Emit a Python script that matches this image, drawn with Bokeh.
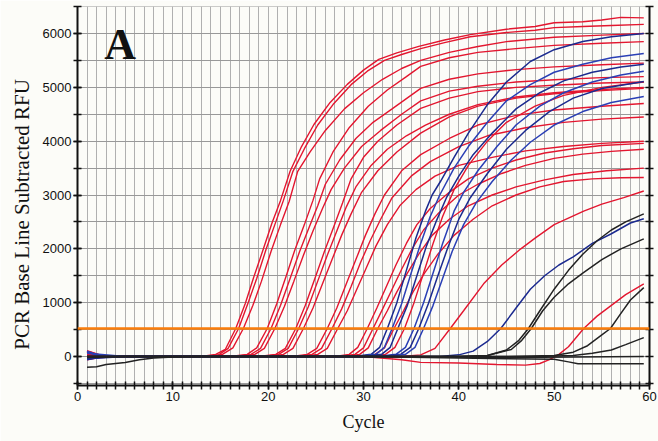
from bokeh.plotting import figure
from bokeh.models import FixedTicker, LinearAxis, Span, Label, CustomJSTickFormatter
from bokeh.embed import file_html
from bokeh.resources import INLINE

# ---------------- data (cycle, RFU) ----------------
R01 = [(1,80),(2.5,10),(5,0),(13,0),(14.5,40),(15.5,130),(16.6,520),(17.6,985),(18.5,1480),(19.5,2000),(20.4,2480),(21.3,2900),(22.3,3440),(23.5,3900),(24.8,4310),(26.5,4720),(28.3,5055),(30,5320),(31.6,5520),(33.5,5640),(35.8,5760),(38.5,5880),(41.2,5980),(45,6080),(48,6130),(50,6200),(53,6220),(55,6250),(57,6300),(59.4,6290)]
R02 = [(1,-40),(2.5,-10),(5,0),(13,0),(14.8,30),(15.8,150),(16.9,520),(17.9,1000),(18.8,1450),(19.8,2000),(20.7,2450),(21.6,2900),(22.6,3440),(23.8,3860),(25.2,4300),(26.8,4680),(28.7,5050),(30.4,5300),(32.2,5500),(34,5610),(36,5720),(38.5,5830),(41.2,5940),(45,6020),(48,6060),(50,6110),(53,6130),(56,6150),(59.4,6170)]
R03 = [(1,100),(2.5,20),(5,0),(13.5,0),(15.2,40),(16.3,160),(17.4,520),(18.4,950),(19.3,1400),(20.3,1950),(21.3,2450),(22.2,2880),(23.1,3440),(24.4,3800),(26,4200),(28,4600),(30,4900),(32,5150),(34,5350),(36,5500),(39,5650),(42,5760),(45,5850),(50,5930),(55,5970),(59.4,6000)]
R04 = [(1,60),(2.5,0),(5,0),(16,0),(17.8,40),(18.8,160),(19.9,520),(20.9,980),(21.9,1500),(22.8,1980),(23.8,2450),(24.7,2900),(25.4,3300),(26.8,3800),(28.5,4250),(30.5,4650),(32.5,4950),(34.5,5200),(36,5390),(39,5550),(42,5650),(46,5720),(50,5780),(55,5820),(59.4,5850)]
R05 = [(1,-50),(2.5,-10),(5,0),(16.5,0),(18.2,40),(19.2,150),(20.3,520),(21.3,950),(22.3,1450),(23.3,1950),(24.3,2400),(25.2,2800),(26,3200),(27.5,3650),(29.2,4050),(31,4350),(33,4600),(36,4980),(39,5150),(42,5250),(46,5330),(50,5380),(55,5420),(59.4,5450)]
R06 = [(1,30),(2.5,0),(5,0),(17,0),(18.6,40),(19.6,150),(20.7,520),(21.7,930),(22.7,1400),(23.7,1880),(24.7,2330),(25.7,2750),(26.6,3100),(28,3500),(29.8,3900),(31.8,4200),(34,4500),(36,4750),(39,4930),(42,5020),(46,5100),(50,5140),(55,5180),(59.4,5200)]
R07 = [(1,90),(2.5,10),(5,0),(19,0),(20.8,40),(21.8,150),(22.9,520),(23.9,950),(24.9,1450),(25.9,1950),(26.9,2420),(27.8,2850),(28.7,3300),(30,3700),(31.5,4000),(33.5,4300),(36,4610),(39,4800),(42,4920),(46,5000),(50,5040),(55,5080),(59.4,5100)]
R08 = [(1,-30),(2.5,0),(5,0),(19.5,0),(21.1,40),(22.1,150),(23.2,520),(24.2,920),(25.2,1400),(26.2,1880),(27.2,2330),(28.2,2780),(29.2,3150),(30.8,3550),(32.5,3850),(34.5,4100),(36.5,4300),(39,4500),(42,4680),(46,4820),(50,4900),(55,4960),(59.4,5000)]
R09 = [(1,50),(2.5,0),(5,0),(20,0),(21.6,40),(22.6,150),(23.7,520),(24.7,900),(25.7,1350),(26.7,1800),(27.7,2250),(28.7,2650),(29.8,3050),(31.5,3450),(33.5,3800),(36,4150),(39,4450),(42,4650),(46,4800),(50,4880),(55,4940),(59.4,4980)]
R10 = [(1,20),(2.5,0),(5,0),(22.5,0),(24.1,40),(25.1,150),(26.2,520),(27.2,900),(28.2,1350),(29.2,1800),(30.2,2250),(31.2,2650),(32.2,3000),(34,3450),(36,3750),(39,4050),(42,4300),(46,4480),(50,4580),(55,4650),(59.4,4700)]
R11 = [(1,-60),(2.5,-10),(5,0),(23,0),(24.6,40),(25.6,150),(26.7,520),(27.7,880),(28.7,1300),(29.7,1750),(30.7,2150),(31.8,2550),(33,2950),(35,3350),(37,3620),(40,3900),(43,4100),(47,4250),(51,4350),(55,4410),(59.4,4450)]
R12 = [(1,40),(2.5,0),(5,0),(23.5,0),(25.2,40),(26.2,150),(27.3,520),(28.3,850),(29.3,1250),(30.3,1650),(31.3,2050),(32.5,2450),(33.8,2800),(35.5,3100),(37.5,3350),(40,3550),(43.5,3700),(47,3820),(51,3900),(55,3960),(59.4,4000)]
R13 = [(1,80),(2.5,10),(5,0),(27,0),(28.5,40),(29.4,170),(30.4,520),(31.4,900),(32.4,1300),(33.4,1700),(34.5,2100),(35.6,2450),(37,2750),(39,3050),(41,3300),(43.5,3500),(46,3650),(49,3780),(52,3860),(55,3920),(59.4,3960)]
R14 = [(1,-20),(2.5,0),(5,0),(27.5,0),(29.1,40),(30,160),(31,520),(32,880),(33,1250),(34,1620),(35.1,2000),(36.3,2350),(37.8,2650),(40,3000),(42,3200),(44.5,3400),(47,3550),(50,3680),(53,3760),(56,3810),(59.4,3850)]
R15 = [(1,110),(2.5,20),(5,0),(28,0),(29.6,40),(30.5,160),(31.5,520),(32.5,850),(33.5,1200),(34.6,1550),(35.8,1900),(37.2,2250),(39,2550),(41,2800),(43.5,3000),(46,3150),(49,3280),(52,3380),(55.5,3450),(59.4,3500)]
R16 = [(1,-50),(2.5,-10),(5,0),(29.5,0),(31.2,40),(32.2,160),(33.2,520),(34.2,850),(35.2,1200),(36.4,1550),(37.8,1900),(39.5,2250),(41.5,2550),(43.5,2800),(46,3000),(48.5,3150),(51,3250),(54,3300),(57,3320),(59.4,3325)]
R17 = [(1,0),(5,0),(30.5,0),(32.3,40),(33.3,170),(34.3,520),(35.3,1000),(36.3,1550),(37.3,2100),(38.3,2600),(39.5,3100),(41,3550),(43,4000),(45,4350),(48,4650),(51,4850),(55,5000),(59.4,5100)]
R18 = [(1,30),(5,0),(34,0),(36,30),(37.5,150),(39.1,520),(40.5,850),(42.6,1350),(44.5,1700),(46.5,2000),(48,2200),(50,2450),(53.1,2700),(55,2830),(57.3,2950),(59.4,3075)]
R19 = [(1,-30),(5,0),(30,0),(34,-60),(36,-110),(40,-120),(44,-150),(47,-160),(48.5,-130),(49.5,-60),(50.5,40),(51.5,180),(53.1,520),(54.5,750),(56,950),(57.5,1150),(59.4,1350)]

B01 = [(1,-60),(2.5,-10),(5,0),(29,0),(30.8,40),(31.7,170),(32.5,520),(33.5,1000),(34.5,1600),(35.5,2200),(36.5,2700),(37.2,3000),(38.1,3260),(39.5,3700),(41,4150),(43,4680),(45,5100),(47.5,5480),(50,5700),(53,5850),(56,5940),(59.4,6000)]
B02 = [(1,100),(2.5,10),(5,0),(29.5,0),(31.3,40),(32.2,170),(33,520),(34,980),(35,1550),(36,2100),(37,2600),(38,3000),(39.5,3500),(41,3900),(43,4350),(45,4750),(47.5,5050),(50,5280),(53,5430),(56,5550),(59.4,5630)]
B03 = [(1,-30),(5,0),(30,0),(31.9,40),(32.8,170),(33.6,520),(34.6,950),(35.6,1500),(36.6,2050),(37.6,2500),(38.7,2950),(40,3350),(41.5,3750),(43.5,4150),(46,4600),(48.5,4900),(51,5120),(54,5280),(57,5380),(59.4,5430)]
B04 = [(1,80),(2.5,0),(5,0),(31.5,0),(33.4,40),(34.4,170),(35.3,520),(36.3,1000),(37.3,1550),(38.3,2100),(39.5,2700),(40.5,3050),(42,3450),(44,3900),(46,4300),(48.5,4650),(51,4900),(54,5100),(57,5230),(59.4,5300)]
B05 = [(1,-40),(5,0),(32,0),(33.9,40),(34.9,170),(35.8,520),(36.8,980),(37.8,1500),(38.8,2000),(40,2550),(41.2,2950),(43,3400),(45,3850),(47,4200),(49.5,4550),(52,4800),(55,4980),(59.4,5110)]
B06 = [(1,60),(5,0),(32.5,0),(34.4,40),(35.4,170),(36.3,520),(37.3,950),(38.3,1450),(39.3,1950),(40.5,2450),(41.8,2850),(43.5,3250),(45.5,3650),(47.5,3980),(50,4300),(53,4550),(56,4720),(59.4,4830)]
B07 = [(1,0),(5,0),(38,0),(40,30),(41.5,100),(43,280),(44.4,520),(46,900),(47.5,1250),(49,1500),(50.5,1700),(52,1850),(54,2100),(56,2280),(58,2480),(59.4,2560)]

K01 = [(1,0),(5,0),(40,0),(43,20),(45,120),(46.3,300),(47.3,520),(48.5,850),(50,1250),(51.5,1600),(53,1900),(54.5,2150),(56,2350),(57.5,2500),(59.4,2650)]
K02 = [(1,0),(5,0),(40,0),(43,20),(45.5,130),(46.6,300),(47.6,520),(48.8,850),(50,1100),(51.5,1350),(53,1550),(55,1800),(57,2000),(59.4,2185)]
K03 = [(1,0),(5,0),(45,0),(50,20),(52,80),(53.5,200),(55,400),(55.9,520),(57,800),(58,1050),(59.4,1280)]
K04 = [(1,-20),(5,0),(48,0),(52,20),(54,60),(56,120),(57.5,220),(59.4,350)]
K05 = [(1,0),(5,0),(30,0),(45,-20),(59.4,0)]
K06 = [(1,-200),(2,-190),(3,-150),(5,-110),(6.5,-60),(8,-30),(10,-10),(13,0),(30,0),(40,-30),(45,-40),(50,-50),(51.5,-100),(52.5,-135),(59.4,-135)]

RED = [R01, R02, R03, R04, R05, R06, R07, R08, R09, R10, R11, R12, R13, R14, R15, R16, R17, R18, R19]
BLUE = [B01, B02, B03, B04, B05, B06, B07]
BLACK = [K01, K02, K03, K04, K05, K06]

THRESHOLD = 520
X_TICKS = [0, 10, 20, 30, 40, 50, 60]
Y_TICKS = [0, 1000, 2000, 3000, 4000, 5000, 6000]
Y_MINOR = list(range(-500, 6501, 500))
X_MINOR = list(range(0, 61))

# ---------------- figure ----------------
BG = "#fcfcf8"
p = figure(width=658, height=441, x_range=(0, 60), y_range=(-539, 6502),
           output_backend="svg", toolbar_location=None,
           min_border_left=77, min_border_right=9, min_border_top=6, min_border_bottom=56)
p.background_fill_color = BG
p.border_fill_color = BG
p.outline_line_color = None

p.xaxis.ticker = FixedTicker(ticks=X_TICKS, minor_ticks=X_MINOR)
p.yaxis.ticker = FixedTicker(ticks=Y_TICKS, minor_ticks=Y_MINOR)
p.xgrid.ticker = FixedTicker(ticks=X_MINOR)
p.ygrid.ticker = FixedTicker(ticks=Y_MINOR)
p.xgrid.grid_line_color = "#b0b0b0"
p.ygrid.grid_line_color = "#999999"
p.xgrid.grid_line_width = 1
p.ygrid.grid_line_width = 1

for ax in (p.xaxis[0], p.yaxis[0]):
    ax.axis_line_color = "#111111"
    ax.axis_line_width = 2
    ax.major_tick_line_color = "#111111"
    ax.minor_tick_line_color = "#111111"
    ax.major_tick_line_width = 1.5
    ax.minor_tick_line_width = 1.5
    ax.major_tick_in = 4
    ax.major_tick_out = 4
    ax.minor_tick_in = 4
    ax.minor_tick_out = 4
    ax.major_label_text_font = "Liberation Sans"
    ax.major_label_text_font_size = "13px"
    ax.major_label_text_color = "#111111"
    ax.major_label_standoff = 2
    ax.axis_label_text_font = "Liberation Serif"
    ax.axis_label_text_font_style = "normal"
    ax.axis_label_text_color = "#111111"

p.xaxis[0].axis_label = "Cycle"
p.xaxis[0].axis_label_text_font_size = "18px"
p.xaxis[0].axis_label_standoff = 8

# trailing no-break spaces shift the centred label down to where the reference shows it
p.yaxis[0].axis_label = "PCR Base Line Subtracted RFU" + "\u00a0" * 7
p.yaxis[0].axis_label_text_font_size = "21px"
p.yaxis[0].axis_label_standoff = 6

right = LinearAxis(ticker=FixedTicker(ticks=Y_MINOR),
                   formatter=CustomJSTickFormatter(code="return ''"))
right.axis_line_color = "#111111"
right.axis_line_width = 2
right.major_tick_line_color = "#111111"
right.major_tick_line_width = 1.5
right.major_tick_in = 4
right.major_tick_out = 4
right.minor_tick_line_color = None
right.major_label_standoff = 0
p.add_layout(right, "right")

for pts in RED:
    xs, ys = zip(*pts)
    p.line(list(xs), list(ys), line_color="#e3162f", line_width=1.4)
for i, pts in enumerate(BLUE):
    xs, ys = zip(*pts)
    p.line(list(xs), list(ys), line_color="#2a3fb5" if i % 2 else "#1b2a8f", line_width=1.5)
for pts in BLACK:
    xs, ys = zip(*pts)
    p.line(list(xs), list(ys), line_color="#222222", line_width=1.5)

p.add_layout(Span(location=THRESHOLD, dimension="width", line_color="#fa7d0a", line_width=2.5))

p.add_layout(Label(x=2.8, y=5800, text="A", text_font="Liberation Serif",
                   text_font_size="44px", text_font_style="bold", text_color="#111111",
                   text_align="left", text_baseline="alphabetic"))

open("out.html", "w").write(file_html(p, INLINE))
